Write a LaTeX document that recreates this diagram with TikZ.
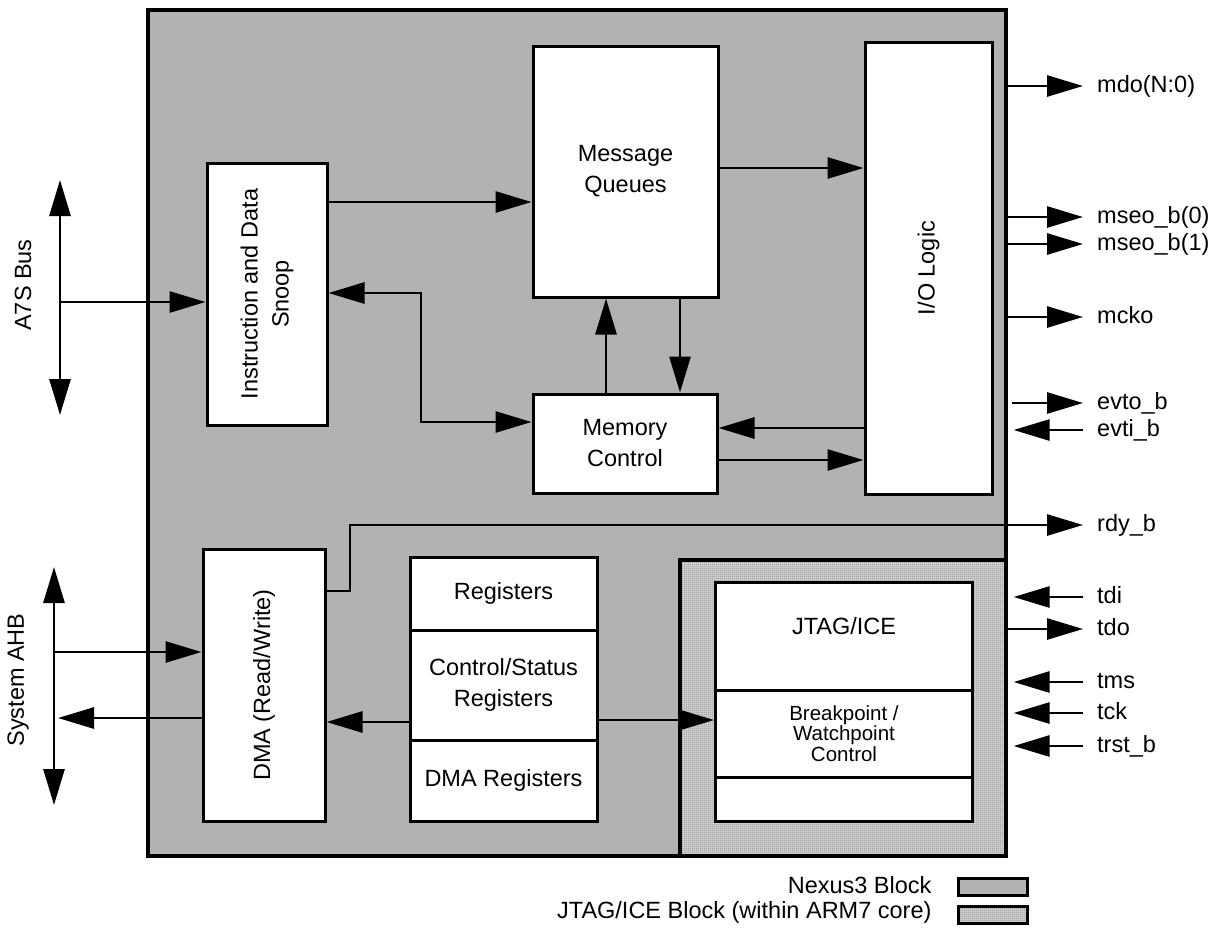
\documentclass[tikz,border=0pt]{standalone}
\usepackage{fontspec}
\setmainfont{Liberation Sans}
\usetikzlibrary{arrows.meta,patterns}
\pgfdeclarepatternformonly{finecheck}{\pgfqpoint{0pt}{0pt}}{\pgfqpoint{2pt}{2pt}}{\pgfqpoint{2pt}{2pt}}{%
  \pgfpathrectangle{\pgfpointorigin}{\pgfqpoint{1pt}{1pt}}%
  \pgfpathrectangle{\pgfqpoint{1pt}{1pt}}{\pgfqpoint{1pt}{1pt}}%
  \pgfusepath{fill}}

\begin{document}
\begin{tikzpicture}[x=1pt,y=-1pt,font=\fontsize{23.5}{31}\selectfont,>={Triangle[length=36pt,width=21pt]},
  blk/.style={draw,line width=3pt,fill=white,inner sep=0pt,align=center},
  jtagfill/.style={preaction={fill=black!17},pattern=finecheck,pattern color=black!45},
  sig/.style={line width=2.8pt,->},
  pin/.style={anchor=west,inner xsep=14pt,inner ysep=0pt,text height=17pt,text depth=5pt}]
\useasboundingbox (0,0) rectangle (1221,930);
\node[draw,line width=3.3pt,fill=black!30,inner sep=0pt,minimum width=858pt,minimum height=846pt] (nexus) at (577,433) {};
\node[draw,line width=3.3pt,jtagfill,inner sep=0pt,minimum width=326pt,minimum height=296pt] (jblk) at (843,708) {};
\node[blk,minimum width=120pt,minimum height=262pt] (snoop) at (267,294) {};
\node[rotate=90,align=center] at (snoop) {Instruction and Data\\Snoop};
\node[blk,minimum width=185pt,minimum height=251pt] (mq) at (625.5,171.5) {Message\\Queues};
\node[blk,minimum width=127pt,minimum height=452pt] (iol) at (928.5,268) {};
\node[rotate=90] at (iol) {I/O Logic};
\node[blk,minimum width=184pt,minimum height=99pt] (mc) at (625,443.5) {Memory\\Control};
\node[blk,minimum width=122pt,minimum height=272pt] (dma) at (264,685) {};
\node[rotate=90] at (dma) {DMA (Read/Write)};
\node[blk,minimum width=187pt,minimum height=73pt] (regA) at (503.5,593.5) {Registers};
\node[blk,minimum width=187pt,minimum height=110pt] (regB) at (503.5,685) {Control/Status\\Registers};
\node[blk,minimum width=187pt,minimum height=81pt] (regC) at (503.5,780.5) {DMA Registers};
\node[blk,minimum width=257pt,minimum height=108pt] (jA) at (844,636) {};
\node at (844,626) {JTAG/ICE};
\node[blk,minimum width=257pt,minimum height=87pt,font=\fontsize{20.5}{20.5}\selectfont] (jB) at (844,733.5) {Breakpoint /\\Watchpoint\\ Control};
\node[blk,minimum width=257pt,minimum height=44pt] (jC) at (844,799) {};

\coordinate (a7top) at (60,180);
\coordinate (a7bot) at (60,415);
\coordinate (ahbtop) at (54,567);
\coordinate (ahbbot) at (54,805);
\node[rotate=90] (a7lbl) at (23,285) {A7S Bus};
\node[rotate=90] (ahblbl) at (18,680) {System AHB};
\draw[sig,<->] (a7top) -- (a7bot);
\draw[sig] (a7top |- 0,302) -- (snoop.west |- 0,302);
\draw[sig,<->] (ahbtop) -- (ahbbot);
\draw[sig] (ahbtop |- 0,652) -- (dma.west |- 0,652);
\draw[sig,shorten >=4pt] (dma.west |- 0,718) -- (ahbtop |- 0,718);

\draw[sig] (snoop.east |- 0,202) -- (mq.west |- 0,202);
\draw[sig,<->] (snoop.east |- 0,293) -| (421,422) -- (mc.west |- 0,422);
\draw[sig] (mq.east |- 0,168) -- (iol.west |- 0,168);
\draw[sig] (mc.north -| 606,0) -- (mq.south -| 606,0);
\draw[sig] (mq.south -| 680,0) -- (mc.north -| 680,0);
\draw[sig] (iol.west |- 0,428) -- (mc.east |- 0,428);
\draw[sig] (mc.east |- 0,460) -- (iol.west |- 0,460);
\draw[sig] (regB.west |- 0,722) -- (dma.east |- 0,722);
\draw[sig] (regB.east |- 0,720) -- (jB.west |- 0,720);

\foreach \nm/\y/\txt in {mdo/86/mdo(N:0),mseoa/217/mseo\_b(0),mseob/244/mseo\_b(1),mcko/317/mcko,tdo/629/tdo}{
  \node[pin] (\nm) at (1083,\y) {\txt};
  \draw[sig] (nexus.east |- \nm) -- (\nm.west);
}
\node[pin] (evto) at (1083,403) {evto\_b};
\draw[sig,shorten <=4pt] (nexus.east |- evto) -- (evto.west);
\foreach \nm/\y/\txt in {evti/430/evti\_b,tdi/597/tdi,tms/682/tms,tck/713/tck,trst/746/trst\_b}{
  \node[pin] (\nm) at (1083,\y) {\txt};
  \draw[sig,shorten >=6pt] (\nm.west) -- (nexus.east |- \nm);
}
\node[pin] (rdy) at (1083,525) {rdy\_b};
\draw[sig] (dma.east |- 0,591) -| (350,525) -- (rdy.west);

\node[anchor=east] (lgn) at (935,885) {Nexus3 Block};
\node[draw,line width=3pt,fill=black!30,inner sep=0pt,minimum width=69pt,minimum height=17pt] (lgnbox) at (992.5,886.5) {};
\node[anchor=east] (lgj) at (935,912) {JTAG/ICE Block (within ARM7 core)};
\node[draw,line width=3pt,jtagfill,inner sep=0pt,minimum width=69pt,minimum height=17pt] (lgjbox) at (992.5,914.5) {};
\end{tikzpicture}
\end{document}
